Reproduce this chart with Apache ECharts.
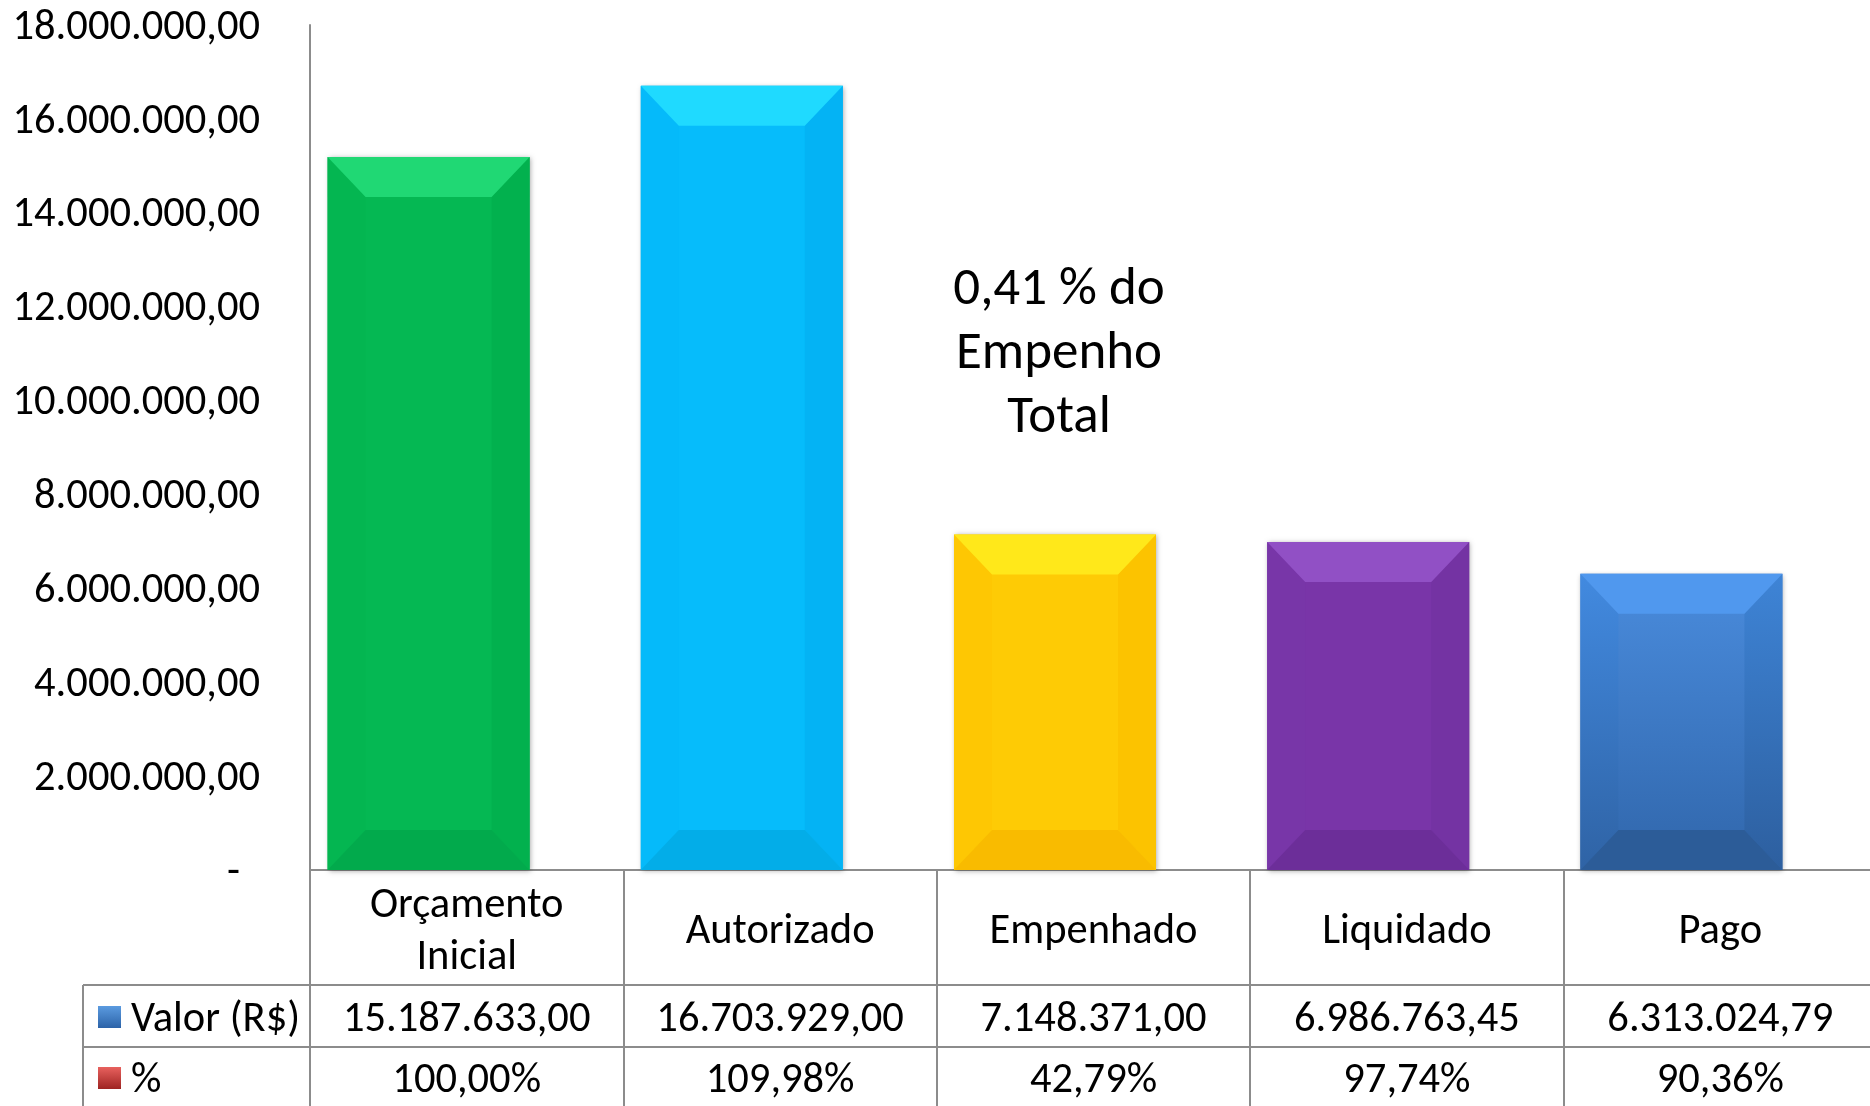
<!DOCTYPE html>
<html>
<head>
<meta charset="utf-8">
<script src="https://cdn.jsdelivr.net/npm/echarts@6/dist/echarts.min.js"></script>
<style>
html,body{margin:0;padding:0;background:#fff;}
#chart{width:1870px;height:1106px;}
</style>
</head>
<body>
<div id="chart"></div>
<script>
// ---- data ----
const categories = ['Orçamento\nInicial', 'Autorizado', 'Empenhado', 'Liquidado', 'Pago'];
const valores = [15187633.00, 16703929.00, 7148371.00, 6986763.45, 6313024.79];
const percentuais = [100.00, 109.98, 42.79, 97.74, 90.36];
const yMin = 0, yMax = 18000000, yStep = 2000000;
const rowLabels = ['Valor (R$)', '%'];
const annotationLines = ['0,41 % do', 'Empenho', 'Total'];

// ---- styles ----
const FONT = 'Carlito, Calibri, Lato, sans-serif';
const FS = 42.5;
const LINE = '#8c8c8c';
const palette = [
  {face:'#05B853', top:'#20D874', left:'#04B651', right:'#02B14E', bottom:'#02AA4C'},
  {face:'#06BCFB', top:'#1FDAFF', left:'#05BAFA', right:'#04B3F4', bottom:'#03ADE8'},
  {face:'#FECB05', top:'#FFE81A', left:'#FEC703', right:'#FCC300', bottom:'#F9BB00'},
  {face:'#7935A8', top:'#9150C5', left:'#7836A8', right:'#7433A3', bottom:'#6C2E99'},
  {face:{type:'linear',x:0,y:0,x2:0,y2:1,colorStops:[{offset:0,color:'#4A8CDD'},{offset:1,color:'#3066AB'}]},
   top:'#5098EE',
   left:{type:'linear',x:0,y:0,x2:0,y2:1,colorStops:[{offset:0,color:'#428AE0'},{offset:1,color:'#2F63A5'}]},
   right:{type:'linear',x:0,y:0,x2:0,y2:1,colorStops:[{offset:0,color:'#3E84D6'},{offset:1,color:'#2D5F9F'}]},
   bottom:'#2C5C98'}
];

function fmtBR(v){
  const s = Math.abs(v).toFixed(2).split('.');
  const i = s[0].replace(/\B(?=(\d{3})+(?!\d))/g, '.');
  return (v < 0 ? '-' : '') + i + ',' + s[1];
}
function fmtPct(p){ return p.toFixed(2).replace('.', ',') + '%'; }

const chart = echarts.init(document.getElementById('chart'), null, {renderer:'canvas'});

const BEVX = 38, BEVY = 40;
function renderBar(params, api){
  const idx = api.value(0), v = api.value(1);
  const top = api.coord([idx, v]);
  const base = api.coord([idx, 0]);
  const bw = api.size([1, 0])[0] * 0.645;
  const x0 = top[0] - bw/2, x1 = top[0] + bw/2, y0 = top[1], y1 = base[1];
  const c = palette[idx];
  return {type:'group', children:[
    {type:'rect', shape:{x:x0, y:y0, width:bw, height:y1-y0},
     style:{fill:c.face, shadowBlur:5, shadowColor:'rgba(0,0,0,0.35)', shadowOffsetX:1, shadowOffsetY:1}},
    {type:'polygon', shape:{points:[[x0,y0],[x0+BEVX,y0+BEVY],[x0+BEVX,y1-BEVY],[x0,y1]]}, style:{fill:c.left}},
    {type:'polygon', shape:{points:[[x1,y0],[x1,y1],[x1-BEVX,y1-BEVY],[x1-BEVX,y0+BEVY]]}, style:{fill:c.right}},
    {type:'polygon', shape:{points:[[x0,y0],[x1,y0],[x1-BEVX,y0+BEVY],[x0+BEVX,y0+BEVY]]}, style:{fill:c.top}},
    {type:'polygon', shape:{points:[[x0,y1],[x0+BEVX,y1-BEVY],[x1-BEVX,y1-BEVY],[x1,y1]]}, style:{fill:c.bottom}}
  ]};
}

const GT = 25, GB = 236, GH = 1106 - GT - GB;
const labelBase = {fontFamily:FONT, fontSize:FS, color:'#000'};

const option = {
  backgroundColor:'#fff',
  animation:false,
  grid:[
    {left:272, top:GT, width:1566, height:GH, outerBoundsMode:'none'},
    {left:310, top:GT, width:1567, height:GH, outerBoundsMode:'none'},
    {left:310, top:GT, width:1567, height:GH, outerBoundsMode:'none'},
    {left:310, top:GT, width:1567, height:GH, outerBoundsMode:'none'}
  ],
  xAxis:[
    {gridIndex:0, type:'category', data:categories, show:false},
    {gridIndex:1, type:'category', data:categories,
     axisLine:{show:true, lineStyle:{color:LINE, width:2}},
     axisTick:{show:true, interval:0, length:GB, lineStyle:{color:LINE, width:2}},
     axisLabel:Object.assign({interval:0, margin:62, verticalAlign:'middle', lineHeight:52, align:'center'}, labelBase)},
    {gridIndex:2, type:'category', data:categories,
     axisLine:{show:false}, axisTick:{show:false},
     axisLabel:Object.assign({interval:0, margin:150, verticalAlign:'middle',
       formatter:(v, i) => fmtBR(valores[i])}, labelBase)},
    {gridIndex:3, type:'category', data:categories,
     axisLine:{show:false}, axisTick:{show:false},
     axisLabel:Object.assign({interval:0, margin:211, verticalAlign:'middle',
       formatter:(v, i) => fmtPct(percentuais[i])}, labelBase)}
  ],
  yAxis:[
    {gridIndex:0, type:'value', min:yMin, max:yMax, interval:yStep, show:false},
    {gridIndex:1, type:'value', min:yMin, max:yMax, interval:yStep,
     axisLine:{show:true, lineStyle:{color:LINE, width:2}},
     axisTick:{show:false}, splitLine:{show:false},
     axisLabel:Object.assign({margin:50, padding:[6,0,0,0],
       formatter:v => v === 0 ? '{z|-}' : fmtBR(v),
       rich:{z:{fontFamily:FONT, fontSize:FS, color:'#000', padding:[0,20,0,0]}}}, labelBase)},
    {gridIndex:2, type:'value', min:yMin, max:yMax, show:false},
    {gridIndex:3, type:'value', min:yMin, max:yMax, show:false}
  ],
  series:[
    {type:'custom', xAxisIndex:0, yAxisIndex:0, renderItem:renderBar,
     encode:{x:0, y:1},
     data:valores.map((v, i) => [i, v])}
  ],
  graphic:[
    {type:'line', shape:{x1:83, y1:985, x2:1870, y2:985}, style:{stroke:LINE, lineWidth:2}},
    {type:'line', shape:{x1:83, y1:1047, x2:1870, y2:1047}, style:{stroke:LINE, lineWidth:2}},
    {type:'line', shape:{x1:83, y1:985, x2:83, y2:1106}, style:{stroke:LINE, lineWidth:2}},
    {type:'rect', shape:{x:98, y:1006, width:23, height:22},
     style:{fill:{type:'linear',x:0,y:0,x2:0,y2:1,colorStops:[{offset:0,color:'#5B9BE0'},{offset:1,color:'#2C63A8'}]}}},
    {type:'rect', shape:{x:98, y:1067, width:23, height:22},
     style:{fill:{type:'linear',x:0,y:0,x2:0,y2:1,colorStops:[{offset:0,color:'#E8615E'},{offset:1,color:'#9E2422'}]}}},
    {type:'text', x:131, y:1020, style:{text:rowLabels[0], fontFamily:FONT, fontSize:FS, fill:'#000', textVerticalAlign:'middle'}},
    {type:'text', x:131, y:1081, style:{text:rowLabels[1], fontFamily:FONT, fontSize:FS, fill:'#000', textVerticalAlign:'middle'}},
    {type:'text', x:1059, y:355, style:{text:annotationLines.join('\n'), fontFamily:FONT, fontSize:53, lineHeight:64,
      fill:'#000', textAlign:'center', textVerticalAlign:'middle'}}
  ]
};
chart.setOption(option);
</script>
</body>
</html>
